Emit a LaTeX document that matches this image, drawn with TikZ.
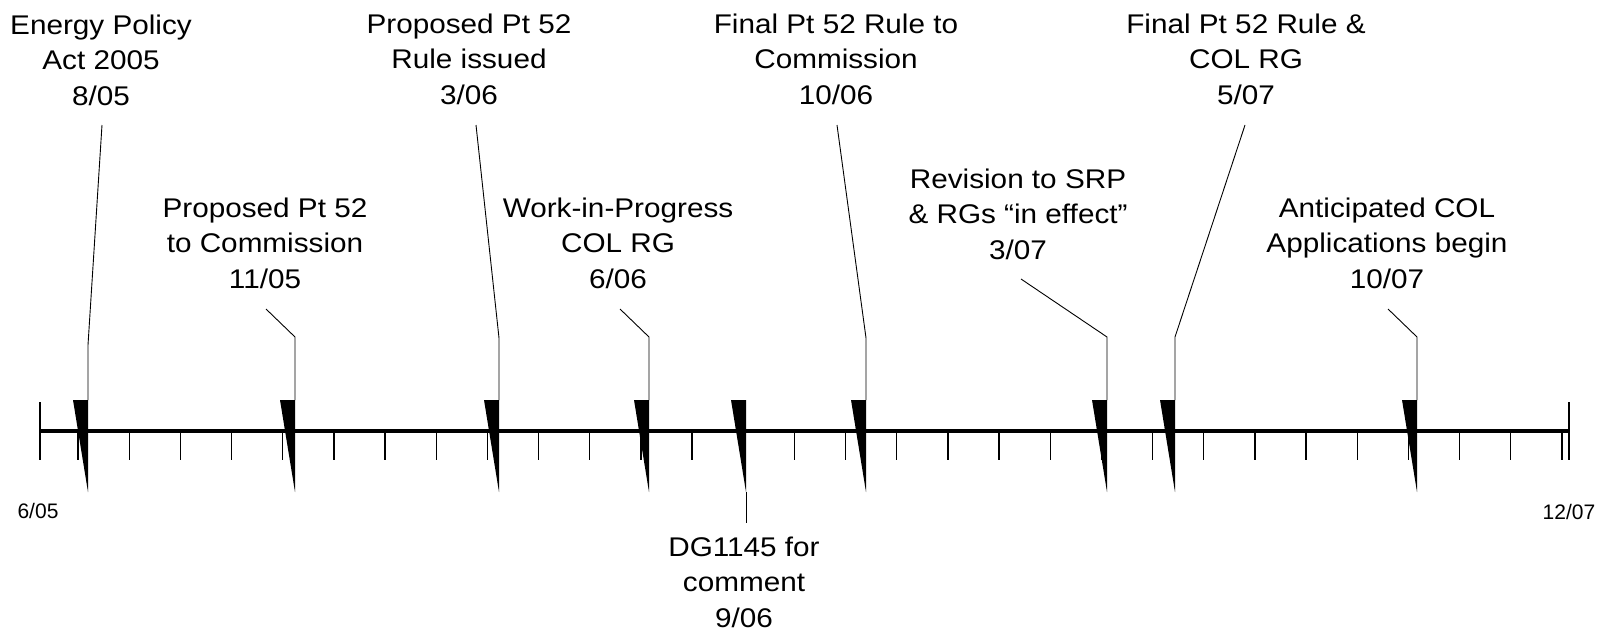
\documentclass[tikz,border=0pt]{standalone}
\usepackage{fontspec}
\setmainfont{Liberation Sans}
\newfontfamily\lblfont[FakeStretch=1.1]{Liberation Sans}

\begin{document}
\begin{tikzpicture}[x=1pt, y=-1pt,
  lbl/.style={font=\lblfont\fontsize{27}{35.5}\selectfont, align=center, inner sep=0pt, anchor=base},
  enddate/.style={font=\fontsize{21}{24}\selectfont, inner sep=0pt},
  flag/.style={fill=black},
  lead/.style={line width=.9pt}]
  \useasboundingbox (0,0) rectangle (1608,632);

  % time axis, one tick per month
  \draw[line width=4.5pt] (40,431) coordinate (ax0) -- (1569,431) coordinate (ax1);
  \draw[line width=1.3pt] (40,402) -- (40,460) (1569,402) -- (1569,460);
  \foreach \k in {0,...,29}
    \draw[line width=1.3pt] (78+51.17*\k,431) -- ++(0,29);
  \node[enddate] (d0) at (38,511) {6/05};
  \node[enddate] (d1) at (1569,512) {12/07};

  % markers on the axis
  \foreach \n/\x in {a/88,b/295,c/499,d/649,e/746,f/866,g/1107,h/1175,i/1417} {
    \coordinate (m\n) at (\x,400);
    \fill[flag] (m\n) -- ++(-15,0) -- ++(15,92) -- cycle;
  }

  % labels (placed by the base line of their last line)
  \node[lbl] (la) at (101,105) {Energy Policy\\Act 2005\\8/05};
  \node[lbl] (lb) at (265,288) {Proposed Pt 52\\to Commission\\11/05};
  \node[lbl] (lc) at (469,104) {Proposed Pt 52\\Rule issued\\3/06};
  \node[lbl] (ld) at (618,288) {Work-in-Progress\\COL RG\\6/06};
  \node[lbl] (le) at (744,627) {DG1145 for\\comment\\9/06};
  \node[lbl] (lf) at (836,104) {Final Pt 52 Rule to\\Commission\\10/06};
  \node[lbl] (lg) at (1018,259) {Revision to SRP\\\& RGs “in effect”\\3/07};
  \node[lbl] (lh) at (1246,104) {Final Pt 52 Rule \&\\COL RG\\5/07};
  \node[lbl] (li) at (1387,288) {Anticipated COL\\Applications begin\\10/07};

  % leader lines: label end, knee, marker
  \foreach \n/\tx/\ty/\kx/\ky in {a/102/125/88/345, b/266/309/295/337, c/476/125/499/338,
      d/620/309/649/337, f/837/125/866/338, g/1021/279/1107/337, h/1245/125/1175/337,
      i/1388/309/1417/337} {
    \coordinate (t\n) at (\tx,\ty);
    \coordinate (k\n) at (\kx,\ky);
    \draw[lead] (t\n) -- (k\n) -- (m\n);
  }
  \coordinate (tipe) at (746,492);
  \coordinate (te) at (746,523);
  \draw[lead] (tipe) -- (te);
\end{tikzpicture}
\end{document}
